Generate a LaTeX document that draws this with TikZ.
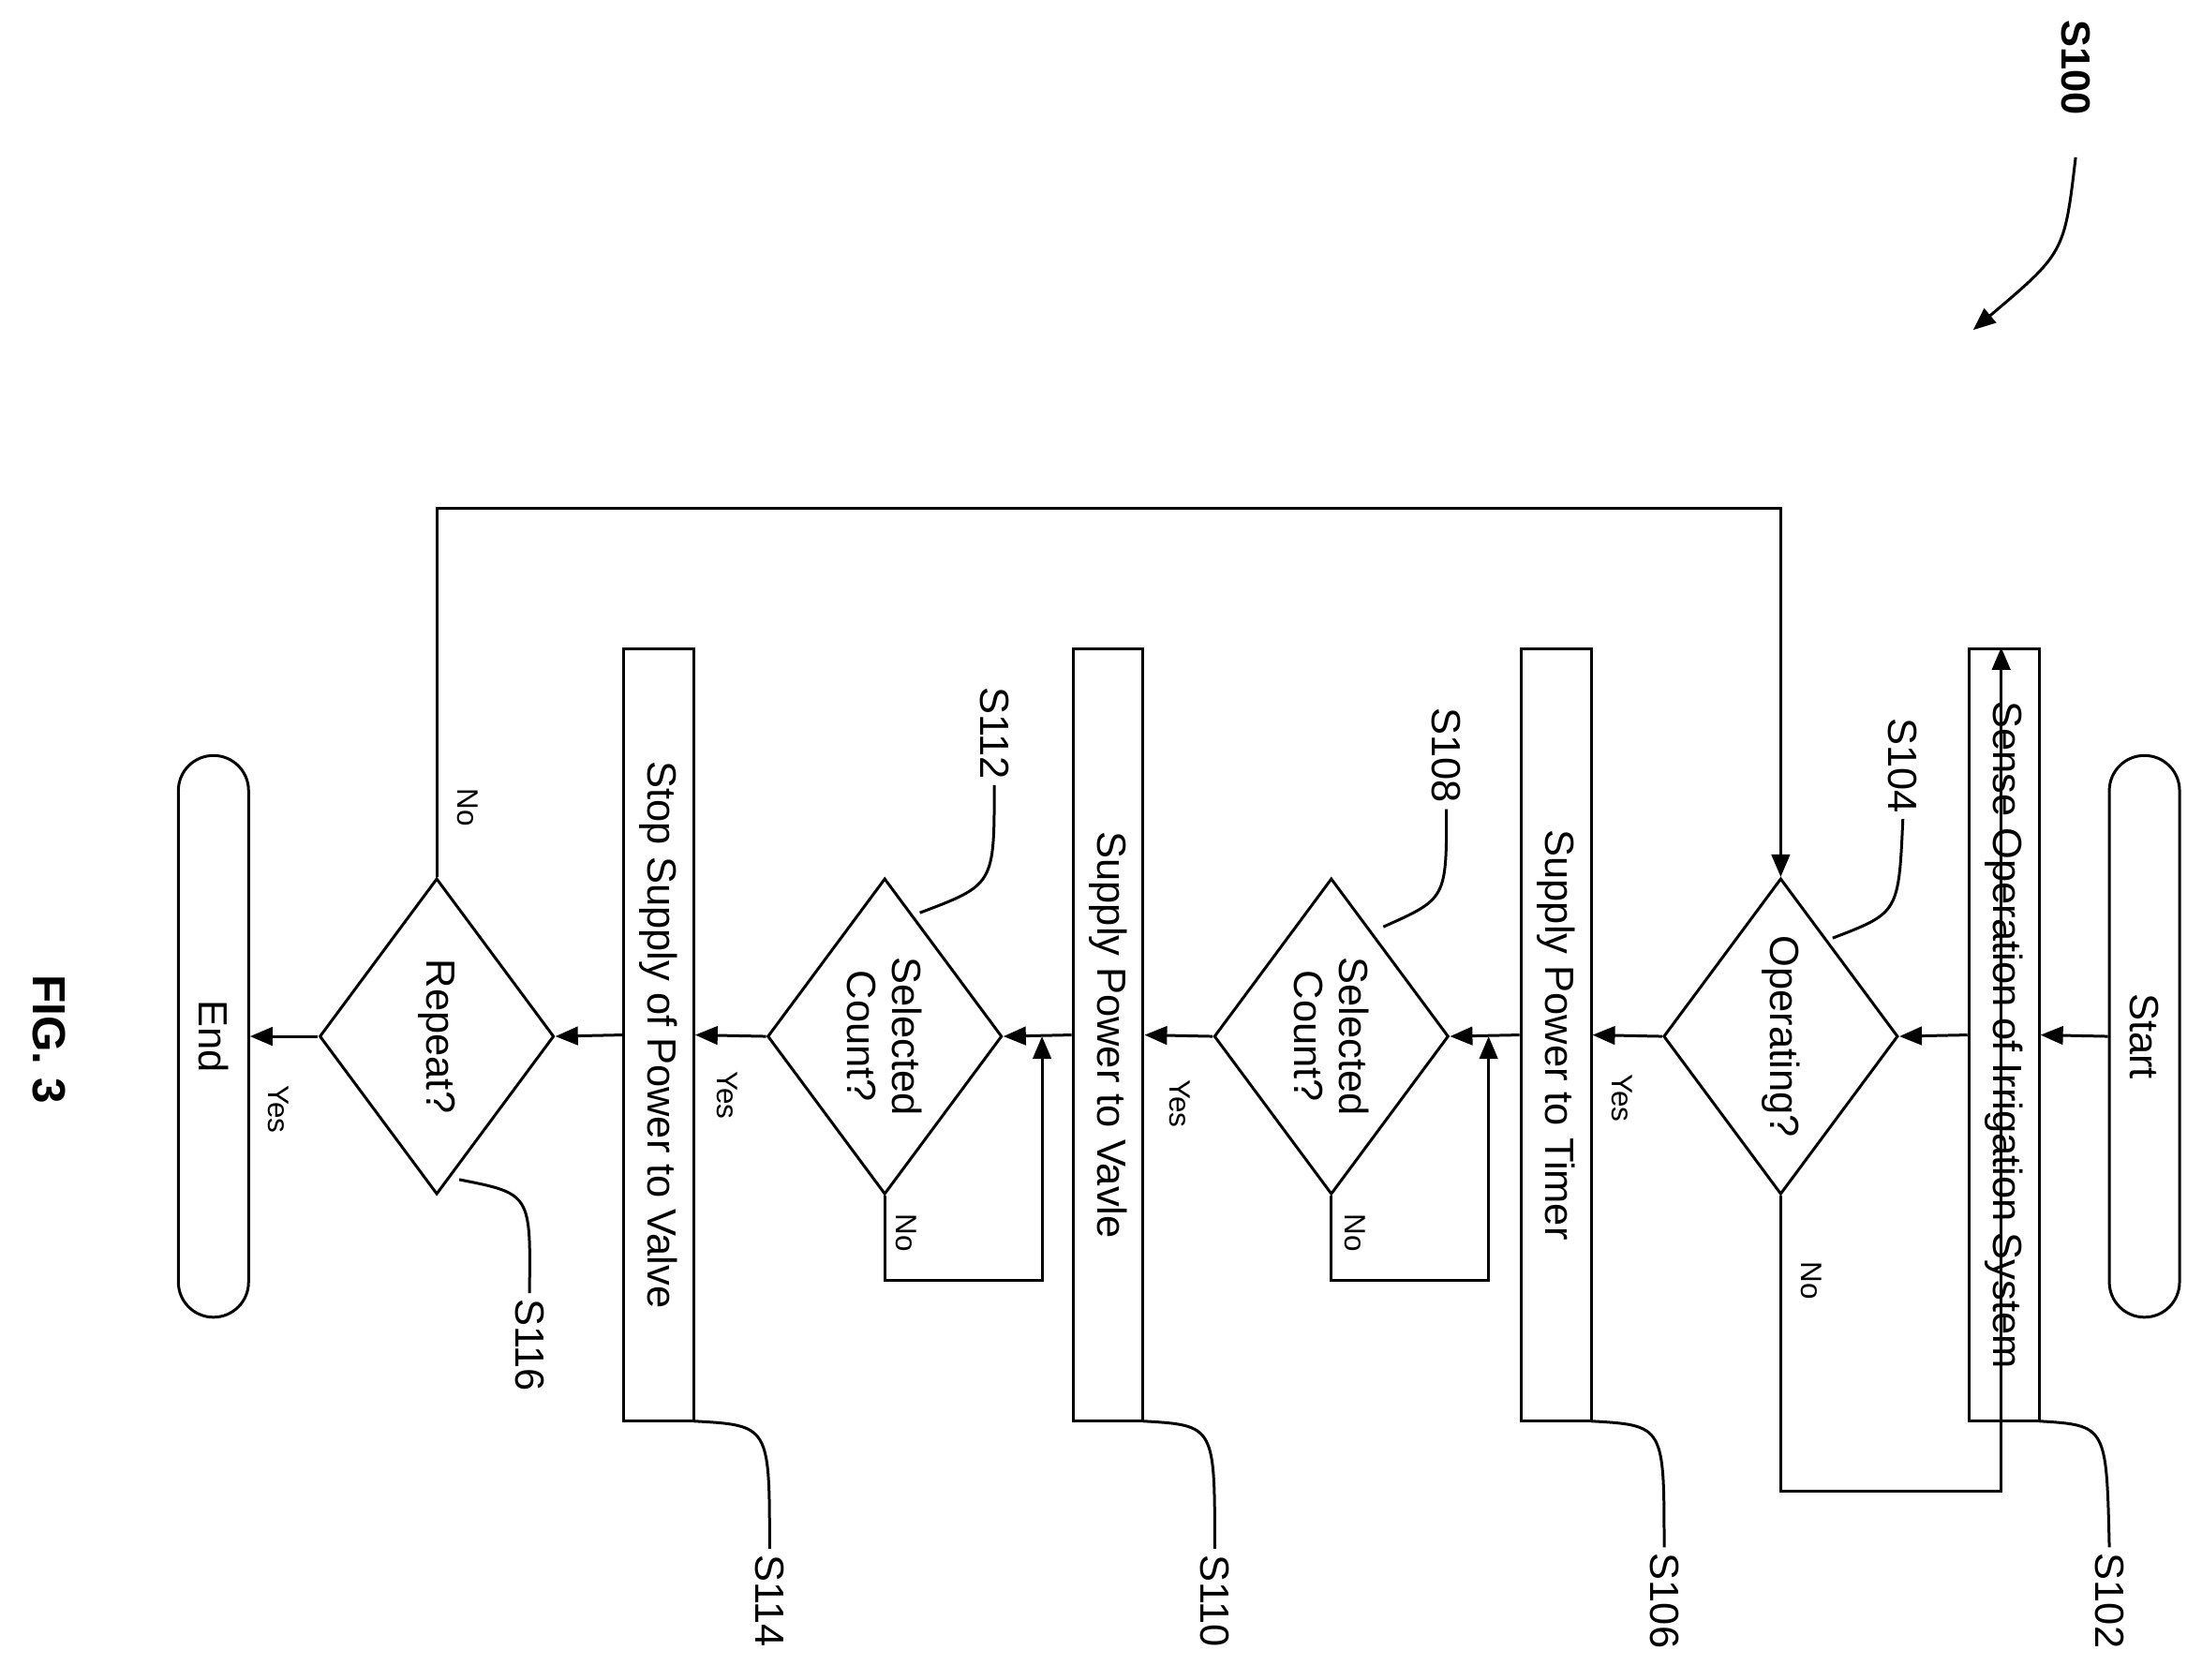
\documentclass[tikz,border=0pt]{standalone}
\usepackage{fontspec}
\setmainfont{Liberation Sans}
\usetikzlibrary{shapes.geometric,arrows.meta}
\begin{document}
\begin{tikzpicture}[x=1pt,y=1pt,line width=2pt,
  every node/.style={font=\fontsize{29}{32}\selectfont},
  box/.style={draw,rectangle,rotate=-90,minimum width=550,minimum height=50,inner sep=0},
  term/.style={draw,rounded corners=25,rotate=-90,minimum width=400,minimum height=50,inner sep=0},
  dia/.style={draw,diamond,rotate=-90,minimum width=225,minimum height=167,inner sep=0,aspect=1.35},
  lab/.style={rotate=-90,font=\fontsize{29}{32}\selectfont},
  yn/.style={rotate=-90,font=\fontsize{21}{24}\selectfont},
  arr/.style={-{Triangle[length=16,width=13]}}]
\useasboundingbox (0,0) rectangle (1568,-1196);
\node[term] (start) at (1527,-738) {Start};
\node[box] (s102) at (1427,-737) {Sense Operation of Irrigation System};
\node[dia] (s104) at (1268,-738) {Operating?};
\node[box] (s106) at (1108,-737) {Supply Power to Timer};
\node[dia,align=center] (s108) at (948,-738) {Selected\\Count?};
\node[box] (s110) at (789,-737) {Supply Power to Vavle};
\node[dia,align=center] (s112) at (630,-738) {Selected\\Count?};
\node[box] (s114) at (469,-737) {Stop Supply of Power to Valve};
\node[dia] (s116) at (311,-738) {Repeat?};
\node[term] (end) at (152,-738) {End};
\draw[arr] (start.south) -- (s102.north);
\draw[arr] (s102.south) -- (s104.north);
\draw[arr] (s104.south) -- (s106.north);
\draw[arr] (s106.south) -- (s108.north);
\draw[arr] (s108.south) -- (s110.north);
\draw[arr] (s110.south) -- (s112.north);
\draw[arr] (s112.south) -- (s114.north);
\draw[arr] (s114.south) -- (s116.north);
\draw[arr] (s116.south) -- (end.north);
\coordinate (j1) at (1060,-738);
\coordinate (j2) at (742,-738);
\draw[arr] (s104.east) -- (1268,-1062) -- (1425,-1062) -- (s102.west -| 1425,0);
\draw[arr] (s108.east) -- (948,-912) -- (1060,-912) -- (j1);
\draw[arr] (s112.east) -- (630,-912) -- (742,-912) -- (j2);
\draw[arr] (s116.west) -- (311,-362) -- (1268,-362) -- (s104.west);
\node[yn] at (1155,-782) {Yes};
\node[yn] at (1290,-912) {No};
\node[yn] at (965,-878) {No};
\node[yn] at (840,-786) {Yes};
\node[yn] at (645,-878) {No};
\node[yn] at (518,-780) {Yes};
\node[yn] at (333,-575) {No};
\node[yn] at (198,-790) {Yes};
% callouts
\node[lab] (l102) at (1502,-1140) {S102};
\node[lab] (l104) at (1355,-545) {S104};
\node[lab] (l106) at (1185,-1140) {S106};
\node[lab] (l108) at (1030,-538) {S108};
\node[lab] (l110) at (865,-1140) {S110};
\node[lab] (l112) at (708,-522) {S112};
\node[lab] (l114) at (548,-1140) {S114};
\node[lab] (l116) at (377,-958) {S116};
\draw (1452,-1012) .. controls (1500,-1015) .. (l102.west);
\draw (1133,-1012) .. controls (1185,-1015) .. (l106.west);
\draw (814,-1012) .. controls (865,-1015) .. (l110.west);
\draw (494,-1012) .. controls (548,-1015) .. (l114.west);
\draw (1305,-668) .. controls (1352,-650) .. (l104.east);
\draw (985,-660) .. controls (1030,-640) .. (l108.east);
\draw (655,-650) .. controls (708,-630) .. (l112.east);
\draw (327,-840) .. controls (378,-850) .. (l116.west);
\node[rotate=-90,font=\bfseries\fontsize{29}{32}\selectfont] (s100) at (1478,-48) {S100};
\draw[arr] (1478,-112) .. controls (1470,-180) .. (1405,-235);
\node[rotate=-90,font=\bfseries\fontsize{33}{36}\selectfont] (fig) at (35,-740) {FIG. 3};
\end{tikzpicture}
\end{document}
